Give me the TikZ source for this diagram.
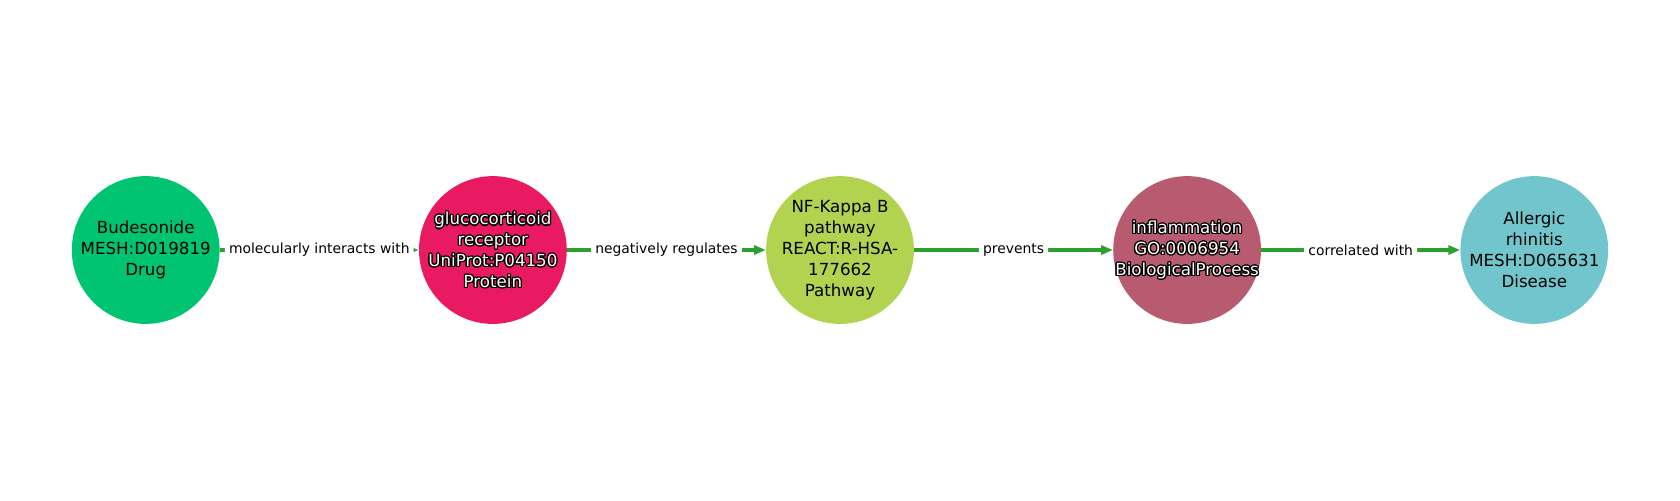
\documentclass[tikz,border=0pt]{standalone}
\usepackage{fontspec}
\setmainfont{DejaVu Sans}
\usetikzlibrary{arrows.meta,calc}
\definecolor{cDrug}{HTML}{00C472}
\definecolor{cProt}{HTML}{E91A62}
\definecolor{cPath}{HTML}{B2D34F}
\definecolor{cBio}{HTML}{B85B70}
\definecolor{cDis}{HTML}{70C6CC}
\definecolor{eGreen}{HTML}{2CA02C}
\begin{document}
\begin{tikzpicture}[x=0.72pt,y=-0.72pt,
  ent/.style={circle, minimum size=106.4pt, inner sep=0pt, draw=none},
  ntext/.style={align=center, font=\fontsize{12}{15.1}\selectfont, inner sep=0pt},
  edge/.style={draw=eGreen, line width=2.3pt, -{Triangle[length=8.5pt,width=6.5pt]}},
  elabel/.style={fill=white, rounded corners=3pt, inner sep=3pt, font=\fontsize{10}{12}\selectfont, text=black}]
\useasboundingbox (0,0) rectangle (1680,500);
\node[ent, fill=cDrug] (n1) at (145.7,250) {};
\node[ent, fill=cProt] (n2) at (492.9,250) {};
\node[ent, fill=cPath] (n3) at (840,250) {};
\node[ent, fill=cBio]  (n4) at (1187.1,250) {};
\node[ent, fill=cDis]  (n5) at (1534.3,250) {};
\draw[edge] (n1) -- (n2) node[midway, elabel] (e1) {molecularly interacts with};
\draw[edge] (n2) -- (n3) node[midway, elabel] (e2) {negatively regulates};
\draw[edge] (n3) -- (n4) node[midway, elabel] (e3) {prevents};
\draw[edge] (n4) -- (n5) node[midway, elabel] (e4) {correlated with};
\node[ntext] (t1) at (n1) {Budesonide\\MESH:D019819\\Drug};
\foreach \a in {0,22.5,...,337.5}
  \node[ntext, text=black] at ($(n2)+(\a:0.9pt)$) {glucocorticoid\\receptor\\UniProt:P04150\\Protein};
\node[ntext, text=white] (t2) at (n2) {glucocorticoid\\receptor\\UniProt:P04150\\Protein};
\node[ntext] (t3) at (n3) {NF-Kappa B\\pathway\\REACT:R-HSA-\\177662\\Pathway};
\foreach \a in {0,22.5,...,337.5}
  \node[ntext, text=black] at ($(n4)+(\a:0.9pt)$) {inflammation\\GO:0006954\\BiologicalProcess};
\node[ntext, text=white] (t4) at (n4) {inflammation\\GO:0006954\\BiologicalProcess};
\node[ntext] (t5) at (n5) {Allergic\\rhinitis\\MESH:D065631\\Disease};
\end{tikzpicture}
\end{document}
